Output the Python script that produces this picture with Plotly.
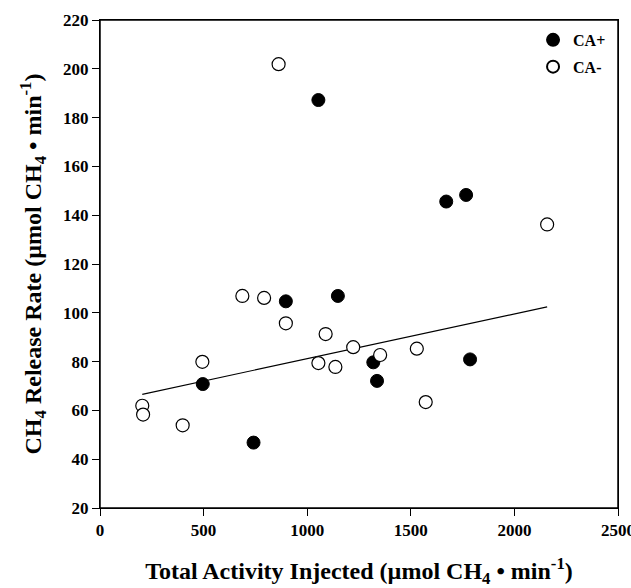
import plotly.graph_objects as go

# CA+ (filled circles)
ca_plus_x = [1054, 1671, 1767, 897, 1148, 496, 741, 1319, 1337, 1786]
ca_plus_y = [187.2, 145.6, 148.3, 104.7, 106.9, 70.8, 46.8, 79.7, 72.1, 80.9]
# CA- (open circles)
ca_minus_x = [862, 2158, 687, 792, 897, 1089, 1054, 1136, 1222, 1352, 1529, 1572, 494, 204, 208, 399]
ca_minus_y = [201.9, 136.2, 106.9, 106.1, 95.7, 91.3, 79.4, 77.8, 85.9, 82.7, 85.3, 63.4, 79.9, 61.9, 58.3, 53.9]
# regression line endpoints
trend_x = [204, 2158]
trend_y = [66.6, 102.4]

x_ticks = [0, 500, 1000, 1500, 2000, 2500]
y_ticks = [20, 40, 60, 80, 100, 120, 140, 160, 180, 200, 220]

font_family = "Liberation Serif, Times New Roman, serif"

fig = go.Figure()
fig.add_trace(go.Scatter(x=trend_x, y=trend_y, mode="lines",
                         line=dict(color="black", width=1.2), showlegend=False, hoverinfo="skip"))
fig.add_trace(go.Scatter(x=ca_plus_x, y=ca_plus_y, mode="markers", name="<b>CA+</b>", legendgroup="a",
                         marker=dict(symbol="circle", size=13, color="black",
                                     line=dict(color="black", width=1))))
fig.add_trace(go.Scatter(x=ca_minus_x, y=ca_minus_y, mode="markers", name="<b>CA-</b>", legendgroup="b",
                         marker=dict(symbol="circle", size=13, color="white",
                                     line=dict(color="black", width=1.2))))

axis_common = dict(showgrid=False, zeroline=False, showline=True, linecolor="black", linewidth=1,
                   mirror=True, ticks="outside", ticklen=7, tickcolor="black", automargin=False,
                   ticklabeloverflow="allow",
                   tickfont=dict(family=font_family, size=17, color="black", weight="bold"))

fig.update_layout(
    width=631, height=588,
    margin=dict(l=100, r=13, t=20, b=80),
    paper_bgcolor="white", plot_bgcolor="white",
    font=dict(family=font_family, color="black"),
    xaxis=dict(range=[0, 2500], tickvals=x_ticks, ticktext=[f"<b>{v}</b>" for v in x_ticks],
               title=dict(text="<b>Total Activity Injected (µmol CH<sub>4</sub> • min<sup>-1</sup>)</b>",
                          font=dict(family=font_family, size=24), standoff=33),
               **axis_common),
    yaxis=dict(range=[20, 220], tickvals=y_ticks, ticktext=[f"<b>{v}</b>" for v in y_ticks],
               title=dict(text="<b>CH<sub>4</sub> Release Rate (µmol CH<sub>4</sub> • min<sup>-1</sup>)</b>",
                          font=dict(family=font_family, size=24), standoff=14),
               **axis_common),
    legend=dict(x=0.836, y=0.994, xanchor="left", yanchor="top", bgcolor="rgba(0,0,0,0)",
                font=dict(family=font_family, size=16, color="black"),
                tracegroupgap=3, itemsizing="constant"),
    shapes=[dict(type="rect", xref="paper", yref="paper", x0=0, y0=0, x1=1, y1=1,
                 line=dict(color="black", width=1.5), fillcolor="rgba(0,0,0,0)", layer="above")],
)

fig.write_html("out.html", config={"displayModeBar": False},
               post_script="document.body.style.margin='0';document.body.style.overflow='hidden';")
